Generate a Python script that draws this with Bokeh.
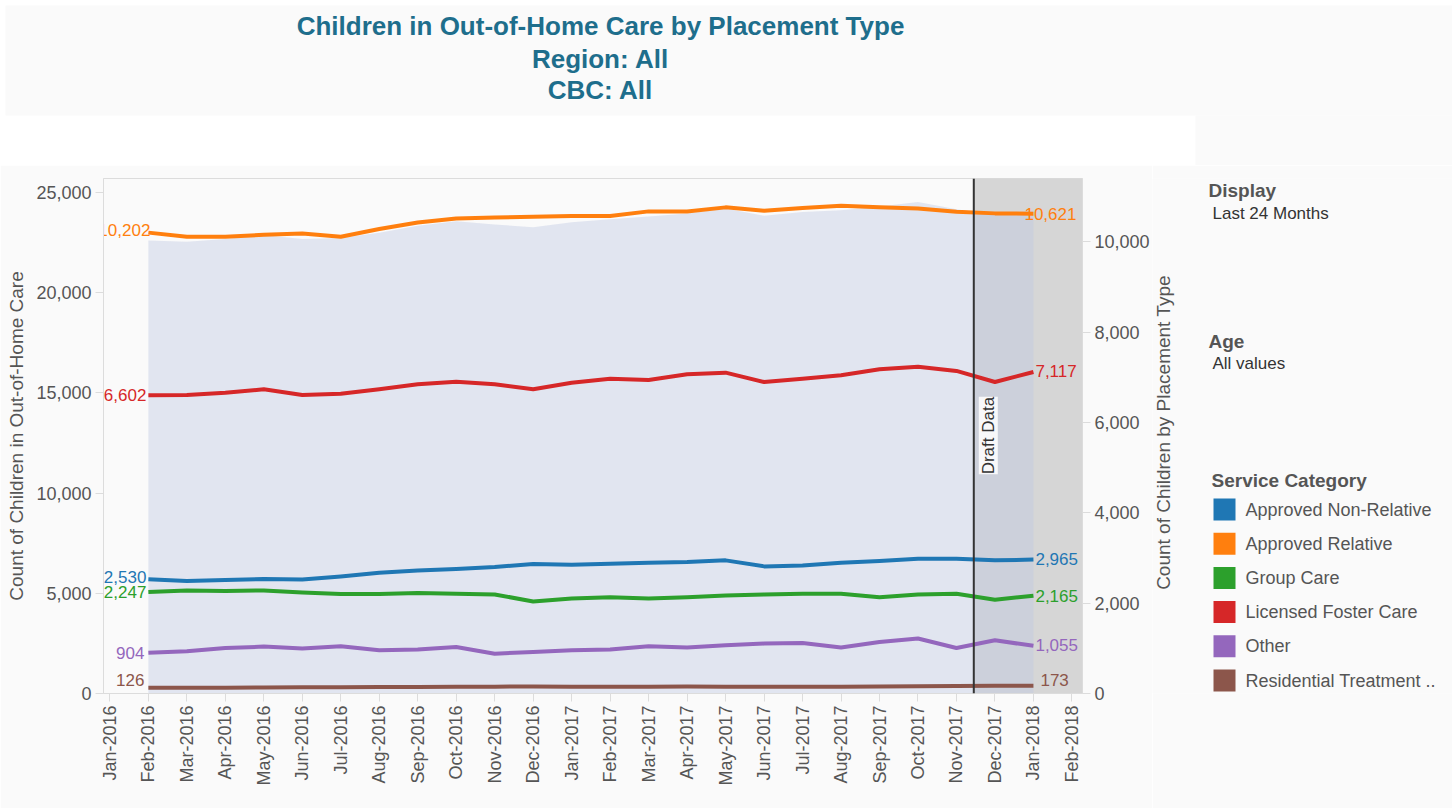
from math import pi
from bokeh.plotting import figure
from bokeh.models import Range1d, LinearAxis, FixedTicker, NumeralTickFormatter, Span, Label
from bokeh.layouts import column, row
from bokeh.embed import file_html
from bokeh.resources import INLINE
from bokeh.core.properties import value

FONT = "Liberation Sans"

# ---------------- data ----------------
tick_labels = ["Jan-2016", "Feb-2016", "Mar-2016", "Apr-2016", "May-2016", "Jun-2016", "Jul-2016",
               "Aug-2016", "Sep-2016", "Oct-2016", "Nov-2016", "Dec-2016", "Jan-2017", "Feb-2017",
               "Mar-2017", "Apr-2017", "May-2017", "Jun-2017", "Jul-2017", "Aug-2017", "Sep-2017",
               "Oct-2017", "Nov-2017", "Dec-2017", "Jan-2018", "Feb-2018"]
data_months = tick_labels[1:25]  # Feb-2016 .. Jan-2018

categories = ["Approved Non-Relative", "Approved Relative", "Group Care",
              "Licensed Foster Care", "Other", "Residential Treatment .."]
colors = ["#1f77b4", "#ff7f0e", "#2ca02c", "#d62728", "#9467bd", "#8c564b"]

approved_non_relative = [2530, 2488, 2510, 2533, 2526, 2592, 2673, 2725, 2755, 2799, 2865, 2851,
                         2873, 2895, 2910, 2947, 2814, 2836, 2895, 2932, 2984, 2984, 2947, 2965]
approved_relative = [10202, 10111, 10111, 10155, 10184, 10111, 10282, 10428, 10517, 10539, 10554, 10570,
                     10570, 10672, 10672, 10761, 10687, 10747, 10798, 10761, 10738, 10665, 10628, 10621]
group_care = [2247, 2282, 2267, 2282, 2237, 2200, 2200, 2222, 2208, 2193, 2038, 2104,
              2133, 2104, 2133, 2171, 2193, 2208, 2208, 2133, 2193, 2208, 2075, 2165]
licensed_foster_care = [6602, 6605, 6659, 6734, 6608, 6637, 6734, 6845, 6902, 6845, 6734, 6880,
                        6969, 6940, 7066, 7102, 6896, 6969, 7044, 7177, 7235, 7140, 6896, 7117]
other = [904, 934, 1008, 1038, 994, 1045, 956, 972, 1030, 882, 919, 956,
         972, 1045, 1016, 1067, 1105, 1118, 1016, 1140, 1216, 1008, 1178, 1055]
residential_treatment = [126, 128, 130, 134, 137, 140, 143, 146, 149, 152, 156, 152,
                         150, 152, 154, 152, 150, 148, 150, 155, 162, 166, 170, 173]

series = [approved_non_relative, approved_relative, group_care,
          licensed_foster_care, other, residential_treatment]
total = [sum(v) for v in zip(*series)]

draft_start = 21.45  # mid-November 2017 (draft data cut-off)

# label offsets (pixels) for start/end value labels
start_dx = [-2, 2, -2, -2, -4, -4]
start_dy = [-2, -3, 0, 0, 0, -8]
end_dx = [2, -9, 2, 2, 2, 7]
end_dy = [-1, 0, 0, -1, -1, -6]

BG = "#fafafa"
TXT = "#555555"

# ---------------- title figure ----------------
TW, TH = 1452, 165
t = figure(width=TW, height=TH, x_range=Range1d(0, TW), y_range=Range1d(TH, 0),
           output_backend="svg", toolbar_location=None, min_border=0, title=None)
t.axis.visible = False
t.grid.visible = False
t.outline_line_color = None
t.background_fill_color = "white"
t.border_fill_color = "white"
t.quad(left=[5, 1195], right=[1460, 1460], top=[5, 115], bottom=[115, 170],
       fill_color=BG, line_color=None)
t.text(x=[600, 600, 600], y=[25, 58, 89],
       text=["Children in Out-of-Home Care by Placement Type", "Region: All", "CBC: All"],
       text_align="center", text_baseline="middle", text_font=value(FONT),
       text_font_size="26px", text_font_style="bold", text_color="#1e6e8c")

# ---------------- main figure ----------------
MW, MH = 1152, 643
FRAME_TOP, FRAME_BOTTOM = 178, 693  # page pixel rows of the plot frame
p = figure(width=MW, height=MH, x_range=Range1d(-1.166, 24.275), y_range=Range1d(0, 25700),
           output_backend="svg", toolbar_location=None, title=None,
           min_border_left=103, min_border_right=67, min_border_top=13, min_border_bottom=115)
p.extra_y_ranges = {"right": Range1d(0, 11400)}
p.background_fill_color = BG
p.border_fill_color = BG
p.outline_line_color = "#dcdcdc"
p.xgrid.grid_line_color = None
p.ygrid.grid_line_color = None

xs = list(range(len(data_months)))

# draft band (under everything)
p.quad(left=[draft_start], right=[30], bottom=[-5000], top=[40000],
       fill_color="#d6d6d6", line_color=None)
# total area on left axis
p.varea(x=xs, y1=[0] * len(xs), y2=total, fill_color="#bfc7e2", fill_alpha=0.42)

for vals, c in zip(series, colors):
    p.line(xs, vals, y_range_name="right", line_color=c, line_width=4, line_join="round")

# start / end labels
for k, (vals, c) in enumerate(zip(series, colors)):
    p.text(x=[xs[0]], y=[vals[0]], text=[f"{vals[0]:,}"], y_range_name="right",
           text_align="right", text_baseline="middle", x_offset=start_dx[k], y_offset=start_dy[k],
           text_font=value(FONT), text_font_size="17px", text_color=c)
    p.text(x=[xs[-1]], y=[vals[-1]], text=[f"{vals[-1]:,}"], y_range_name="right",
           text_align="left", text_baseline="middle", x_offset=end_dx[k], y_offset=end_dy[k],
           text_font=value(FONT), text_font_size="17px", text_color=c)

p.add_layout(Span(location=draft_start, dimension="height", line_color="#333333", line_width=2))
p.add_layout(Label(x=draft_start, y=12870, text="Draft Data", angle=pi / 2,
                   text_align="center", text_baseline="top", x_offset=5,
                   text_font=FONT, text_font_size="17px", text_color="#333333",
                   background_fill_color="white", background_fill_alpha=0.85))

# axes
xa = p.xaxis[0]
xa.ticker = FixedTicker(ticks=list(range(-1, 25)))
xa.major_label_overrides = {i - 1: lab for i, lab in enumerate(tick_labels)}
xa.major_label_orientation = pi / 2

ya = p.yaxis[0]
ya.ticker = FixedTicker(ticks=[0, 5000, 10000, 15000, 20000, 25000])
ya.formatter = NumeralTickFormatter(format="0,0")
ya.axis_label = "Count of Children in Out-of-Home Care"

ra = LinearAxis(y_range_name="right", ticker=FixedTicker(ticks=[0, 2000, 4000, 6000, 8000, 10000]),
                formatter=NumeralTickFormatter(format="0,0"))
p.add_layout(ra, "right")

for ax in [xa, ya, ra]:
    ax.major_label_text_font = FONT
    ax.major_label_text_font_size = "18px"
    ax.major_label_text_color = TXT
    ax.axis_line_color = "#dcdcdc"
    ax.major_tick_line_color = "#dcdcdc"
    ax.major_tick_in = 0
    ax.major_tick_out = 8
    ax.minor_tick_line_color = None
    ax.major_label_standoff = 4
    ax.axis_label_text_font = FONT
    ax.axis_label_text_font_size = "19px"
    ax.axis_label_text_font_style = "normal"
    ax.axis_label_text_color = TXT
    ax.axis_label_standoff = 6

# ---------------- side figure: right-axis title + legend ----------------
# its frame is aligned with the main frame by the row layout, so the y range
# is expressed directly in page pixel rows
SW, SH = 300, 643
s = figure(width=SW, height=SH, x_range=Range1d(0, SW), y_range=Range1d(FRAME_BOTTOM, FRAME_TOP),
           output_backend="svg", toolbar_location=None, min_border=0, title=None)
s.axis.visible = False
s.grid.visible = False
s.outline_line_color = None
s.background_fill_color = BG
s.border_fill_color = BG

s.text(x=[11], y=[432], text=["Count of Children by Placement Type"], angle=pi / 2,
       text_align="center", text_baseline="middle", text_font=value(FONT),
       text_font_size="19px", text_color=TXT)

s.text(x=[56, 56, 59], y=[190, 341, 480], text=["Display", "Age", "Service Category"],
       text_baseline="middle", text_font=value(FONT), text_font_size="19px",
       text_font_style="bold", text_color=TXT)
s.text(x=[60, 60], y=[213, 363], text=["Last 24 Months", "All values"],
       text_baseline="middle", text_font=value(FONT), text_font_size="17px", text_color="#333333")

item_y = [509 + 34.2 * k for k in range(len(categories))]
s.rect(x=[72] * len(categories), y=item_y, width=22, height=22, fill_color=colors, line_color=None)
s.text(x=[93] * len(categories), y=item_y, text=categories, text_baseline="middle",
       text_font=value(FONT), text_font_size="18px", text_color=TXT)

layout = column(t, row(p, s))
open("out.html", "w").write(file_html(layout, INLINE))
